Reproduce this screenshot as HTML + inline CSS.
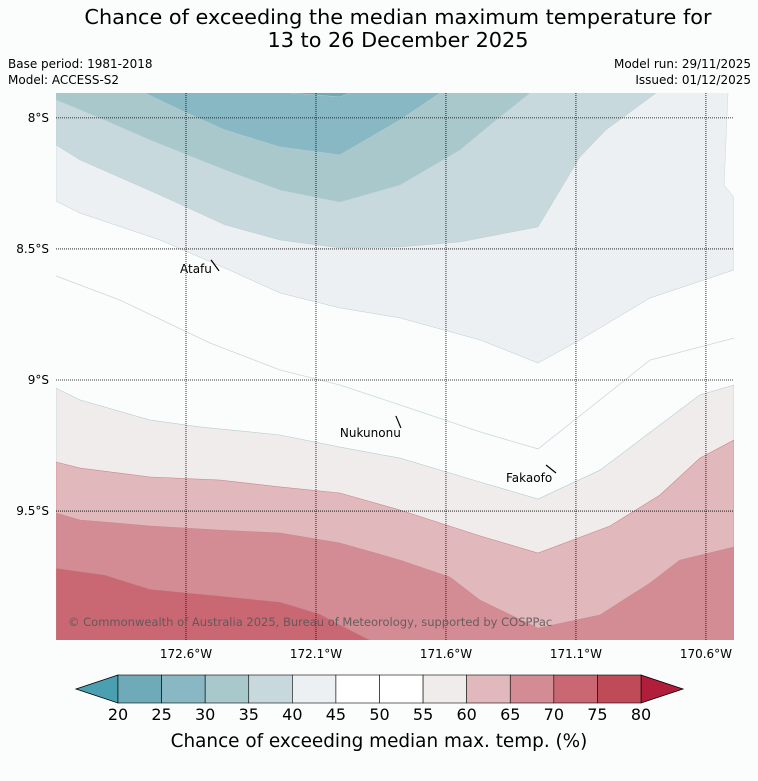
<!DOCTYPE html>
<html><head><meta charset="utf-8"><style>
body{margin:0;background:#fbfdfd;font-family:"DejaVu Sans","Liberation Sans",sans-serif;}
#wrap{position:relative;width:758px;height:781px;overflow:hidden;background:#fbfdfd;}
</style></head><body>
<div id="wrap">
<svg id="svg" width="758" height="781" xmlns="http://www.w3.org/2000/svg">
<text x="398" y="24" text-anchor="middle" font-size="20.8" fill="#000">Chance of exceeding the median maximum temperature for</text>
<text x="398" y="47" text-anchor="middle" font-size="20.8" fill="#000">13 to 26 December 2025</text>
<text x="8" y="68" font-size="12">Base period: 1981-2018</text>
<text x="8" y="84" font-size="12">Model: ACCESS-S2</text>
<text x="751" y="68" font-size="12" text-anchor="end">Model run: 29/11/2025</text>
<text x="751" y="84" font-size="12" text-anchor="end">Issued: 01/12/2025</text>
<defs><clipPath id="clip"><rect x="56" y="93" width="678" height="547"/></clipPath></defs>
<g id="map" clip-path="url(#clip)"></g>
<g id="grid"></g>
<g id="cbar"></g>
<text x="379" y="747" text-anchor="middle" font-size="18.4">Chance of exceeding median max. temp. (%)</text>
</svg>
</div>
<script>
const lonW0 = 173.1, lonW1 = 170.492, latS0 = 7.905, latS1 = 9.992;
const X0 = 56, X1 = 734, Y0 = 93, Y1 = 640;
function xs(lon){return X0 + (lonW0 - lon)/(lonW0 - lonW1)*(X1-X0);}
function ys(lat){return Y0 + (lat - latS0)/(latS1 - latS0)*(Y1-Y0);}

const topLevels = ["40-45","35-40","30-35","25-30","20-25"];
const topColors = ["#ecf0f2","#c8d9dd","#a8c8cc","#88b8c4","#6eaab8"];
const contour40 = [[173.1,8.317],[173.008,8.363],[172.7,8.466],[172.45,8.573],[172.238,8.668],[172.008,8.725],[171.777,8.763],[171.469,8.847],[171.246,8.935],[171.085,8.847],[170.815,8.687],[170.492,8.58]];
const contour35 = [[173.1,8.103],[173.008,8.16],[172.7,8.294],[172.45,8.408],[172.238,8.466],[172.008,8.496],[171.777,8.492],[171.546,8.473],[171.246,8.416],[171.085,8.149],[170.985,8.046],[170.792,7.905]];
const contour30 = [[173.1,7.931],[172.931,8.0],[172.738,8.084],[172.45,8.198],[172.238,8.275],[172.008,8.321],[171.777,8.256],[171.546,8.122],[171.431,8.027],[171.277,7.905]];
const contour25 = [[172.758,7.905],[172.623,7.969],[172.45,8.046],[172.238,8.111],[172.008,8.141],[171.777,8.008],[171.623,7.905]];
const contour20 = [[172.2,7.905],[172.008,7.92],[171.969,7.905]];
const topContours = [contour40,contour35,contour30,contour25,contour20];

const notch = [[170.515,7.905],[170.53,8.256],[170.492,8.302]];

const botLevels = ["55-60","60-65","65-70","70-75"];
const botColors = ["#efeceb","#e1b8bc","#d48c94","#c96872"];
const contour55 = [[173.1,9.031],[173.008,9.076],[172.738,9.153],[172.546,9.179],[172.238,9.21],[172.008,9.256],[171.777,9.298],[171.469,9.389],[171.246,9.454],[171.008,9.344],[170.854,9.229],[170.623,9.057],[170.492,9.019]];
const contour60 = [[173.1,9.313],[173.008,9.336],[172.738,9.37],[172.469,9.382],[172.238,9.408],[172.008,9.431],[171.777,9.496],[171.469,9.595],[171.246,9.66],[170.969,9.557],[170.777,9.439],[170.623,9.298],[170.492,9.229]];
const contour65 = [[173.1,9.508],[173.008,9.534],[172.738,9.557],[172.469,9.573],[172.238,9.584],[172.008,9.622],[171.777,9.687],[171.585,9.752],[171.469,9.84],[171.246,9.947],[171.008,9.897],[170.815,9.775],[170.7,9.687],[170.492,9.637]];
const contour70 = [[173.1,9.718],[172.912,9.744],[172.738,9.798],[172.469,9.824],[172.238,9.847],[172.085,9.893],[171.969,9.954],[171.892,9.992]];
const botContours = [contour55,contour60,contour65,contour70];

const thinLine = [[173.1,8.603],[172.854,8.695],[172.508,8.859],[172.238,8.962],[172.008,9.019],[171.777,9.095],[171.469,9.198],[171.246,9.263],[171.008,9.076],[170.815,8.924],[170.492,8.84]];

const lonTicks = [172.6,172.1,171.6,171.1,170.6];
const lonLabels = ["172.6°W","172.1°W","171.6°W","171.1°W","170.6°W"];
const latTicks = [8.0,8.5,9.0,9.5];
const latLabels = ["8°S","8.5°S","9°S","9.5°S"];

const places = ["Atafu","Nukunonu","Fakaofo"];
const placeLon = [172.623,172.008,171.369];
const placeLat = [8.576,9.202,9.374];

const cbLevels = ["20","25","30","35","40","45","50","55","60","65","70","75","80"];
const cbColors = ["#6eaab8","#89b8c4","#a8c8cc","#c8d9dd","#ecf0f2","#ffffff","#ffffff","#efeceb","#e1b8bc","#d48c94","#c96872","#bf4a58"];

const NS="http://www.w3.org/2000/svg";
function mk(tag,attrs,parent){const e=document.createElementNS(NS,tag);for(const k in attrs)e.setAttribute(k,attrs[k]);parent.appendChild(e);return e;}
const map=document.getElementById('map');
mk('rect',{x:X0,y:Y0,width:X1-X0,height:Y1-Y0,fill:'#fbfdfd'},map);
function pts(c){return c.map(p=>xs(p[0]).toFixed(1)+','+ys(p[1]).toFixed(1));}
topContours.forEach((c,i)=>{
  const p=pts(c);
  p.push(xs(c[c.length-1][0])+','+(Y0-5));p.push(xs(c[0][0])+','+(Y0-5));
  const e=mk('polygon',{points:p.join(' '),fill:topColors[i],stroke:'#b8cdd2','stroke-width':0.5},map);
  
  
});
const np=pts(notch); np.push((X1+5)+','+ys(notch[2][1])); np.push((X1+5)+','+(Y0-5));
const ne=mk('polygon',{points:np.join(' '),fill:'#fbfdfd',stroke:'#c8d6da','stroke-width':0.5},map);


const tl=mk('polyline',{points:pts(thinLine).join(' '),fill:'none',stroke:'#c9d9de','stroke-width':0.8},map);


botContours.forEach((c,i)=>{
  const p=pts(c);
  p.push(xs(c[c.length-1][0])+','+(Y1+5));p.push(xs(c[0][0])+','+(Y1+5));
  const e=mk('polygon',{points:p.join(' '),fill:botColors[i],stroke:i==0?'#b8ccd2':'#c98890','stroke-width':0.6},map);
  
  
});
const grid=document.getElementById('grid');
lonTicks.forEach((l,i)=>{
  const g=mk('line',{x1:xs(l),x2:xs(l),y1:Y0,y2:Y1,stroke:'#000','stroke-width':0.8,'stroke-dasharray':'1,1'},grid);
  
  
  const t=mk('text',{x:xs(l),y:658,'text-anchor':'middle','font-size':12},grid);t.textContent=lonLabels[i];
  
  
});
latTicks.forEach((l,i)=>{
  const g=mk('line',{x1:X0,x2:X1,y1:ys(l),y2:ys(l),stroke:'#000','stroke-width':0.8,'stroke-dasharray':'1,1'},grid);
  
  
  const t=mk('text',{x:49,y:ys(l)+4,'text-anchor':'end','font-size':12},grid);t.textContent=latLabels[i];
  
  
});
const markOff=[[31,-9,39,2],[56,-17,61,-5],[40,-13,50,-5]];
places.forEach((n,i)=>{
  const x=xs(placeLon[i]),y=ys(placeLat[i]);
  const t=mk('text',{x:x,y:y+4,'font-size':12},grid);t.textContent=n;
  
  
  const m=markOff[i];
  const l=mk('line',{x1:x+m[0],y1:y+m[1],x2:x+m[2],y2:y+m[3],stroke:'#000','stroke-width':1.2},grid);
  
  
});
const cp=mk('text',{x:68,y:626,'font-size':11.5,fill:'#555','fill-opacity':0.85},grid);
cp.textContent='© Commonwealth of Australia 2025, Bureau of Meteorology, supported by COSPPac';


const cb=document.getElementById('cbar');
const cbX0=118,cbX1=641,cbY0=675,cbY1=703,n=cbColors.length,w=(cbX1-cbX0)/n;
const lt=mk('polygon',{points:`${cbX0},${cbY0} 76,689 ${cbX0},${cbY1}`,fill:'#4a9fb0',stroke:'#000','stroke-width':0.8},cb);


const rt=mk('polygon',{points:`${cbX1},${cbY0} 683,689 ${cbX1},${cbY1}`,fill:'#b01e3c',stroke:'#000','stroke-width':0.8},cb);


cbColors.forEach((c,i)=>{
  const r=mk('rect',{x:cbX0+i*w,y:cbY0,width:w,height:cbY1-cbY0,fill:c,stroke:'#000','stroke-width':0.6},cb);
  
  
});
cbLevels.forEach((l,i)=>{
  const t=mk('text',{x:cbX0+i*w,y:720,'text-anchor':'middle','font-size':16},cb);t.textContent=l;
  
  
});
</script>
</body></html>
